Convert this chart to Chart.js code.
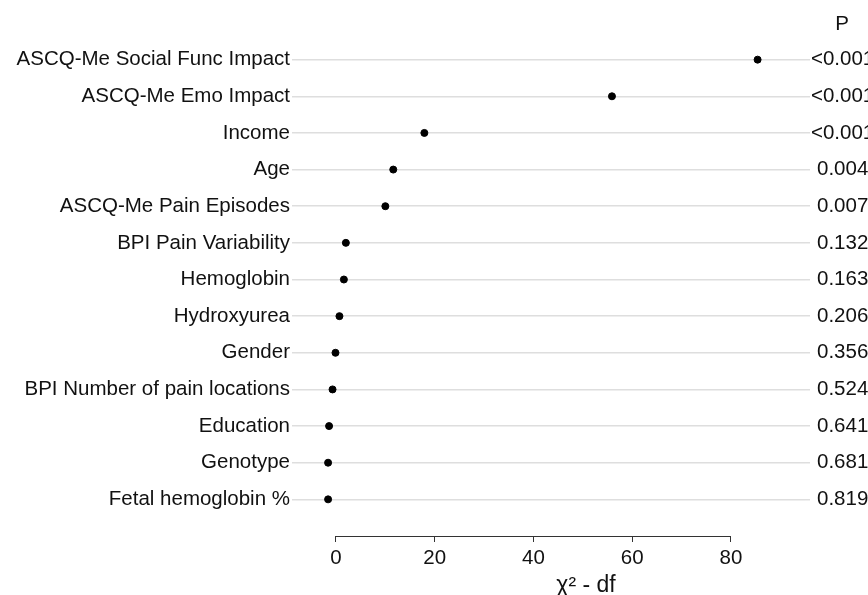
<!DOCTYPE html>
<html lang="en">
<head>
  <meta charset="UTF-8">
  <title>Chi-square minus df by predictor</title>
  <style>
    * { margin: 0; padding: 0; box-sizing: border-box; }
    body { background: #fff; overflow: hidden; }
    #wrap { width: 868px; height: 595px; }
  </style>
  <script src="https://cdn.jsdelivr.net/npm/chart.js"></script>
</head>
<body>
  <div id="wrap"><canvas id="chiChart"></canvas></div>

  <script>
    const predictors = [
      'ASCQ-Me Social Func Impact',
      'ASCQ-Me Emo Impact',
      'Income',
      'Age',
      'ASCQ-Me Pain Episodes',
      'BPI Pain Variability',
      'Hemoglobin',
      'Hydroxyurea',
      'Gender',
      'BPI Number of pain locations',
      'Education',
      'Genotype',
      'Fetal hemoglobin %'
    ];
    const chiMinusDf = [85.4, 55.9, 17.9, 11.6, 10.0, 2.0, 1.6, 0.7, -0.1, -0.7, -1.4, -1.6, -1.6];
    const pValues = ['<0.001', '<0.001', '<0.001', '0.004', '0.007', '0.132', '0.163', '0.206', '0.356', '0.524', '0.641', '0.681', '0.819'];
    const xTicks = [0, 20, 40, 60, 80];
    const xTitle = 'χ² - df';

    const FONT = '"Liberation Sans", Arial, Helvetica, sans-serif';
    const SIZE = 20.5;
    const rowTicks = axis => { axis.ticks = predictors.map((_, i) => ({ value: i + 1 })); };

    // axis line only spans the tick range; axis title and the "P" header drawn by hand
    const extras = {
      id: 'extras',
      afterDraw(chart) {
        const { ctx, chartArea, scales } = chart;
        const x0 = scales.x.getPixelForValue(xTicks[0]);
        const x1 = scales.x.getPixelForValue(xTicks[xTicks.length - 1]);
        ctx.save();
        ctx.strokeStyle = '#333';
        ctx.lineWidth = 1;
        ctx.beginPath();
        ctx.moveTo(x0, chartArea.bottom + 0.5);
        ctx.lineTo(x1, chartArea.bottom + 0.5);
        ctx.stroke();

        ctx.fillStyle = '#111';
        ctx.textAlign = 'center';
        ctx.textBaseline = 'alphabetic';
        ctx.font = SIZE + 'px ' + FONT;
        ctx.fillText('P', 842, 30);
        ctx.font = '23px ' + FONT;
        ctx.fillText(xTitle, 586, 592);
        ctx.restore();
      }
    };

    new Chart(document.getElementById('chiChart'), {
      type: 'scatter',
      data: {
        datasets: [{
          data: chiMinusDf.map((v, i) => ({ x: v, y: i + 1 })),
          backgroundColor: '#000',
          borderColor: '#000',
          pointRadius: 3.5,
          pointHoverRadius: 3.5
        }]
      },
      options: {
        responsive: true,
        maintainAspectRatio: false,
        animation: false,
        layout: { padding: { top: 23, right: 0, left: 0, bottom: 0 } },
        plugins: {
          legend: { display: false },
          tooltip: { enabled: false }
        },
        scales: {
          x: {
            type: 'linear',
            min: -8.1,
            max: 95,
            afterBuildTicks: axis => { axis.ticks = xTicks.map(v => ({ value: v })); },
            afterFit: axis => { axis.height = 59; },
            border: { display: false },
            grid: { drawOnChartArea: false, drawTicks: true, tickLength: 6, color: '#333' },
            ticks: { color: '#111', font: { family: FONT, size: SIZE }, padding: 4 }
          },
          y: {
            type: 'linear',
            reverse: true,
            min: 0,
            max: 14,
            afterBuildTicks: rowTicks,
            afterFit: axis => { axis.width = 296; },
            border: { display: false },
            grid: { color: '#dedede', lineWidth: 1.5, tickLength: 4 },
            ticks: {
              color: '#111',
              font: { family: FONT, size: SIZE },
              padding: 2,
              callback: v => predictors[v - 1]
            }
          },
          y2: {
            type: 'linear',
            position: 'right',
            reverse: true,
            min: 0,
            max: 14,
            afterBuildTicks: rowTicks,
            afterFit: axis => { axis.width = 63; },
            border: { display: false },
            grid: { drawOnChartArea: false, color: '#dedede', lineWidth: 1.5, tickLength: 5 },
            ticks: {
              color: '#111',
              font: { family: FONT, size: SIZE },
              padding: 1,
              crossAlign: 'center',
              callback: v => pValues[v - 1]
            }
          }
        }
      },
      plugins: [extras]
    });
  </script>
</body>
</html>
